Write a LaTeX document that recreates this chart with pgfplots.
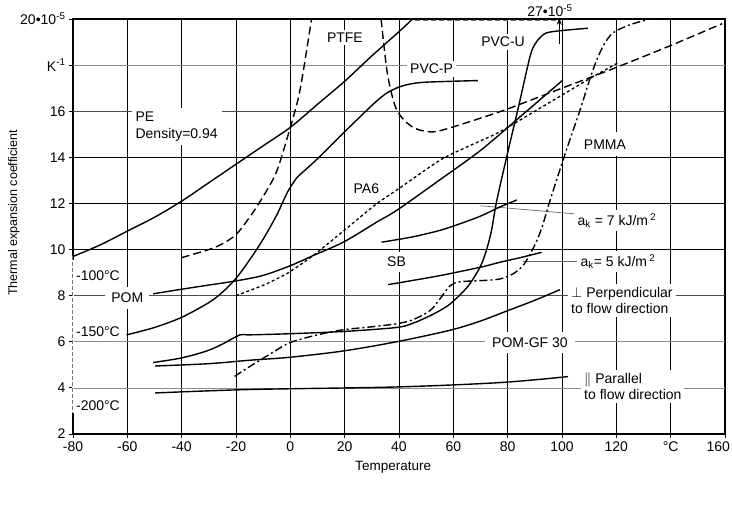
\documentclass[border=0pt]{standalone}
\usepackage{fontspec}
\setmainfont{Liberation Sans}
\usepackage{pgfplots}
\pgfplotsset{compat=1.18}
\usetikzlibrary{arrows.meta}

\newcommand{\lbl}{\fontsize{14}{16.5}\selectfont}
\tikzset{
  curve/.style={black, line width=1.4pt, smooth, tension=0.5, mark=none},
  ptfe/.style={curve, dash pattern=on 8pt off 4pt},
  pa6/.style={curve, line width=1.3pt, dash pattern=on 3pt off 2.5pt},
  pmma/.style={curve, dash pattern=on 8pt off 3pt on 2pt off 3pt},
  tag/.style={font=\lbl, fill=white, inner sep=3pt},
}

\begin{document}
\begin{tikzpicture}[x=1pt,y=1pt]
\path[use as bounding box] (-73,-73) rectangle (659,434);
\begin{axis}[
  at={(0,0)}, anchor=south west,
  width=652pt, height=415pt, scale only axis,
  xmin=-80, xmax=160, ymin=2, ymax=20,
  xtick={-80,-60,...,160}, ytick={2,4,...,20},
  xticklabels={-80,-60,-40,-20,0,20,40,60,80,100,120,°C,\makebox[10pt][r]{160}},
  yticklabels={2,4,6,8,10,12,14,16,K\textsuperscript{-1},20•10\textsuperscript{-5}},
  tick pos=left, tick align=outside, major tick length=4pt,
  grid=major, major grid style={black, line width=0.7pt},
  axis line style={line width=1.3pt},
  every tick/.style={black, line width=0.8pt},
  tick label style={font=\fontsize{14}{16}\selectfont},
  /pgf/number format/assume math mode=true,
  clip=false,
]
% lighter horizontal grid lines
\draw[black!45, line width=0.7pt] (axis cs:-80,18) -- (axis cs:160,18);
\draw[black!45, line width=0.7pt] (axis cs:-80,6) -- (axis cs:160,6);
\draw[black!45, line width=0.7pt] (axis cs:-80,4) -- (axis cs:160,4);
\draw[black!70, line width=0.7pt] (axis cs:-80,16) -- (axis cs:160,16);
\draw[black!70, line width=0.7pt] (axis cs:-80,8) -- (axis cs:160,8);

% dashed marks on the frame
\draw[white, line width=2.5pt] (axis cs:-80,9.55) -- (axis cs:-80,2.9);
\draw[black!55, line width=1pt, dash pattern=on 4pt off 2pt] (axis cs:-80,9.7) -- (axis cs:-80,2.9);
\draw[black!55, line width=1pt, dash pattern=on 5pt off 3pt] (axis cs:46,19.92) -- (axis cs:98.5,19.92);

% labels (white boxes break the grid)
\node[tag] at (axis cs:20.1,19.2) {PTFE};
\node[tag] at (axis cs:52,17.83) {PVC-P};
\node[tag] at (axis cs:78.3,19.0) {PVC-U};
\node[font=\lbl] at (axis cs:95.6,20.35) {27•10\textsuperscript{-5}};
\node[tag, anchor=north west, align=left, inner sep=4pt] at (axis cs:-58.5,16.15) {PE\\Density=0.94};
\node[tag] at (axis cs:28,12.65) {PA6};
\node[tag, inner xsep=12pt, inner ysep=7pt] at (axis cs:115.8,14.57) {PMMA};
\node[tag, inner ysep=5pt] at (axis cs:39.1,9.48) {SB};
\node[tag, anchor=west] at (axis cs:104.6,11.26) {a\textsubscript{k} = 7 kJ/m\,\textsuperscript{2}};
\node[tag, anchor=west] at (axis cs:105.7,9.48) {a\textsubscript{k}= 5 kJ/m\,\textsuperscript{2}};
\node[tag, anchor=north west, align=left] at (axis cs:102.2,8.5) {$\perp$ Perpendicular\\to flow direction};
\node[tag, inner xsep=7pt, inner ysep=6pt] at (axis cs:88.2,5.97) {POM-GF 30};
\node[tag, anchor=north west, align=left] at (axis cs:107,4.8) {$\parallel$ Parallel\\to flow direction};
\node[tag, inner xsep=6pt, inner ysep=6pt] at (axis cs:-60,7.9) {POM};
\node[font=\lbl, anchor=west, inner sep=1pt] at (axis cs:-79.3,8.87) {-100°C};
\node[font=\lbl, anchor=west, inner sep=1pt] at (axis cs:-79.3,6.43) {-150°C};
\node[font=\lbl, anchor=west, inner sep=1pt] at (axis cs:-79.3,3.22) {-200°C};

% leader lines
\draw[black!60, line width=0.7pt] (axis cs:70,11.9) -- (axis cs:104.6,11.55);
\draw[black!60, line width=0.8pt] (axis cs:85.5,9.48) -- (axis cs:105.7,9.48);
\draw[-{Stealth[length=7pt,width=5pt]}, line width=0.9pt] (axis cs:99,18.9) -- (axis cs:99,20.05);

% PE
\addplot[curve] coordinates {(-80,9.7) (-70,10.2) (-60,10.8) (-50,11.4) (-40,12.1) (-30,12.9)
  (-20,13.7) (-10,14.5) (0,15.3) (10,16.3) (20,17.3) (30,18.4) (40,19.45) (45,20.0)};
% PTFE
\addplot[ptfe] coordinates {(-40,9.65) (-30,10.0) (-25,10.25) (-20,10.65) (-15,11.4) (-10,12.3)
  (-5,13.4) (0,15.3) (3,16.6) (5,17.9) (7.8,20)};
\addplot[ptfe] coordinates {(33.4,20) (35.4,17.9) (37,16.9) (39,16.1) (42,15.6) (46,15.25)
  (52,15.1) (58,15.25) (70,15.7) (80,16.1) (100,17.0) (120,17.9) (140,18.85) (159,19.8)};
% PVC-P
\addplot[curve] coordinates {(-60.3,6.3) (-50,6.62) (-40,7.06) (-30,7.7) (-25,8.15) (-20,8.75)
  (-15,9.55) (-10,10.45) (-5,11.5) (-1,12.5) (2.3,13.1) (5,13.4) (10.2,13.96) (19.4,15.04)
  (25.6,15.75) (30,16.25) (35,16.75) (40,17.05) (45,17.2) (50,17.26) (60,17.3) (69,17.33)};
% PA6
\addplot[pa6] coordinates {(-20,8.0) (-10,8.45) (-3.8,8.8) (0,9.05) (8.4,9.74) (19.5,10.8)
  (31.8,11.99) (39.4,12.6) (55,13.87) (65,14.45) (77,15.1) (90,16.0) (100,16.7) (110,17.4) (120.6,18.1)};
% POM
\addplot[curve] coordinates {(-50.5,8.08) (-40,8.28) (-30,8.46) (-20,8.64) (-10,8.88) (0,9.3)
  (8.4,9.74) (19.5,10.32) (31.8,11.19) (39.4,11.72) (55.1,13.03) (70,14.3) (85,15.8) (100.3,17.35)};
% SB, a_k = 7
\addplot[curve] coordinates {(33.6,10.32) (45,10.55) (55,10.83) (62,11.1) (70,11.45) (77,11.84) (83.4,12.15)};
% SB, a_k = 5
\addplot[curve] coordinates {(36,8.48) (45,8.66) (55.1,8.87) (69.8,9.23) (77.2,9.45) (85,9.66) (92.5,9.88)};
% PVC-U
\addplot[curve] coordinates {(-50.5,5.1) (-40,5.3) (-30.8,5.6) (-25,5.9) (-18.5,6.3) (-15,6.3)
  (0,6.35) (20,6.45) (39.1,6.62) (45,6.8) (50,7.05) (55,7.35) (58.8,7.64) (63,8.1) (66,8.5)
  (69.8,9.23) (72,9.9) (74,10.8) (76,12.13) (80,14.2) (84,16.2) (88.2,18.36) (90,18.9) (92,19.2)
  (94.3,19.4) (100,19.5) (109.5,19.6)};
% PMMA
\addplot[pmma] coordinates {(-20.5,4.5) (-14.9,4.93) (-7,5.5) (0,5.97) (10,6.3) (19.4,6.52)
  (30,6.65) (39.1,6.78) (45,6.95) (51.4,7.35) (55,7.85) (58.8,8.43) (62.4,8.6) (69.8,8.65)
  (77,8.72) (82,8.95) (85.6,9.3) (88,9.75) (90.8,10.4) (93,11.1) (95.6,12.13) (101,14.1)
  (106.6,16.04) (110,17.3) (112.7,18.2) (115.5,18.9) (118.8,19.4) (125,19.75) (132.4,20.0)};
% POM-GF 30, perpendicular
\addplot[curve] coordinates {(-49.8,4.95) (-30,5.05) (-14.9,5.2) (0,5.33) (19.4,5.6) (39.1,6.0)
  (58.8,6.5) (70,6.9) (80,7.35) (90,7.8) (99.2,8.26)};
% POM-GF 30, parallel
\addplot[curve] coordinates {(-49.8,3.78) (-14.9,3.93) (39.1,4.04) (77.2,4.23) (102.2,4.49)};

\node[rotate=90, font=\fontsize{12.5}{14}\selectfont] at (axis description cs:-0.0905,0.5325) {Thermal expansion coefficient};
\node[font=\fontsize{13.5}{15}\selectfont] at (axis description cs:0.491,-0.0795) {Temperature};
\end{axis}
\end{tikzpicture}
\end{document}
